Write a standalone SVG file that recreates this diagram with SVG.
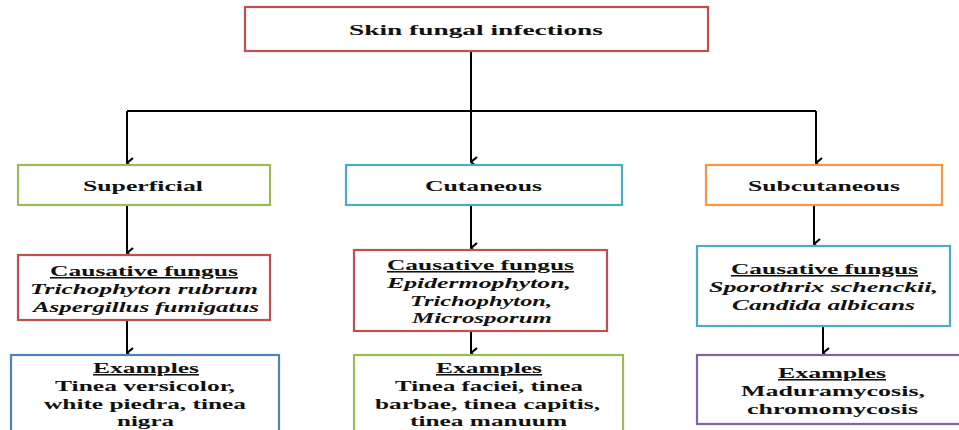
<svg xmlns="http://www.w3.org/2000/svg" width="959" height="430" viewBox="0 0 959 430">
<defs>
<marker id="arr" viewBox="0 0 12 10" refX="6" refY="9" markerWidth="12" markerHeight="10" markerUnits="userSpaceOnUse" orient="auto-start-reverse">
<path d="M1,3 L6,9 L11,3" fill="none" stroke="#000" stroke-width="2.2"/>
</marker>
<style>
.box{fill:#fff;stroke-width:2.2}
.t{font-family:"Liberation Serif","Times New Roman",serif;font-weight:bold;font-size:15.5px;fill:#111;text-anchor:middle}
.i{font-style:italic}
.u{text-decoration:underline}
.ln{fill:none;stroke:#000;stroke-width:2}
</style>
</defs>
<rect width="959" height="430" fill="#fff"/>
<g id="connectors">
<path class="ln" d="M471,51 V162" marker-end="url(#arr)"/>
<path class="ln" d="M127,111 H816"/>
<path class="ln" d="M127,111 V163" marker-end="url(#arr)"/>
<path class="ln" d="M816,111 V163" marker-end="url(#arr)"/>
<path class="ln" d="M127,205 V253" marker-end="url(#arr)"/>
<path class="ln" d="M127,320 V353" marker-end="url(#arr)"/>
<path class="ln" d="M471,205 V248" marker-end="url(#arr)"/>
<path class="ln" d="M471,331 V353" marker-end="url(#arr)"/>
<path class="ln" d="M814,205 V244" marker-end="url(#arr)"/>
<path class="ln" d="M823,326 V353" marker-end="url(#arr)"/>
</g>
<g id="root">
<rect class="box" x="245" y="7" width="463" height="44" stroke="#c0504d"/>
<text class="t" x="476" y="35" textLength="254" lengthAdjust="spacingAndGlyphs">Skin fungal infections</text>
</g>
<g id="superficial">
<rect class="box" x="18" y="165" width="252" height="40" stroke="#9bbb59"/>
<text class="t" x="143" y="191" textLength="120" lengthAdjust="spacingAndGlyphs">Superficial</text>
</g>
<g id="cutaneous">
<rect class="box" x="346" y="165" width="276" height="40" stroke="#4bacc6"/>
<text class="t" x="483.5" y="191" textLength="117" lengthAdjust="spacingAndGlyphs">Cutaneous</text>
</g>
<g id="subcutaneous">
<rect class="box" x="706" y="165" width="236" height="40" stroke="#f79646"/>
<text class="t" x="824" y="191" textLength="152" lengthAdjust="spacingAndGlyphs">Subcutaneous</text>
</g>
<g id="superficial-fungus">
<rect class="box" x="18" y="255" width="252" height="65" stroke="#c0504d"/>
<text class="t u" x="144" y="276" textLength="188" lengthAdjust="spacingAndGlyphs">Causative fungus</text>
<text class="t i" x="144" y="294" textLength="228" lengthAdjust="spacingAndGlyphs">Trichophyton rubrum</text>
<text class="t i" x="146" y="311.5" textLength="226" lengthAdjust="spacingAndGlyphs">Aspergillus fumigatus</text>
</g>
<g id="cutaneous-fungus">
<rect class="box" x="354" y="250" width="253" height="81" stroke="#c0504d"/>
<text class="t u" x="480.5" y="270" textLength="187" lengthAdjust="spacingAndGlyphs">Causative fungus</text>
<text class="t i" x="479" y="288" textLength="184" lengthAdjust="spacingAndGlyphs">Epidermophyton,</text>
<text class="t i" x="481" y="305.5" textLength="142" lengthAdjust="spacingAndGlyphs">Trichophyton,</text>
<text class="t i" x="482" y="323" textLength="140" lengthAdjust="spacingAndGlyphs">Microsporum</text>
</g>
<g id="subcutaneous-fungus">
<rect class="box" x="697" y="246" width="253" height="80" stroke="#4bacc6"/>
<text class="t u" x="824.5" y="274" textLength="187" lengthAdjust="spacingAndGlyphs">Causative fungus</text>
<text class="t i" x="823.5" y="292" textLength="229" lengthAdjust="spacingAndGlyphs">Sporothrix schenckii,</text>
<text class="t i" x="823.5" y="309.5" textLength="183" lengthAdjust="spacingAndGlyphs">Candida albicans</text>
</g>
<g id="superficial-examples">
<rect class="box" x="11" y="355" width="268" height="85" stroke="#4f81bd"/>
<text class="t u" x="146" y="373" textLength="106" lengthAdjust="spacingAndGlyphs">Examples</text>
<text class="t" x="145" y="391" textLength="180" lengthAdjust="spacingAndGlyphs">Tinea versicolor,</text>
<text class="t" x="145" y="408.5" textLength="202" lengthAdjust="spacingAndGlyphs">white piedra, tinea</text>
<text class="t" x="145.5" y="426" textLength="57" lengthAdjust="spacingAndGlyphs">nigra</text>
</g>
<g id="cutaneous-examples">
<rect class="box" x="354" y="355" width="269" height="85" stroke="#9bbb59"/>
<text class="t u" x="489" y="373" textLength="106" lengthAdjust="spacingAndGlyphs">Examples</text>
<text class="t" x="489" y="391" textLength="188" lengthAdjust="spacingAndGlyphs">Tinea faciei, tinea</text>
<text class="t" x="487.5" y="408.5" textLength="225" lengthAdjust="spacingAndGlyphs">barbae, tinea capitis,</text>
<text class="t" x="488.5" y="426" textLength="157" lengthAdjust="spacingAndGlyphs">tinea manuum</text>
</g>
<g id="subcutaneous-examples">
<rect class="box" x="697" y="355" width="275" height="69" stroke="#8064a2"/>
<text class="t u" x="832" y="378" textLength="108" lengthAdjust="spacingAndGlyphs">Examples</text>
<text class="t" x="833" y="396" textLength="184" lengthAdjust="spacingAndGlyphs">Maduramycosis,</text>
<text class="t" x="832.5" y="413.5" textLength="171" lengthAdjust="spacingAndGlyphs">chromomycosis</text>
</g>
</svg>
